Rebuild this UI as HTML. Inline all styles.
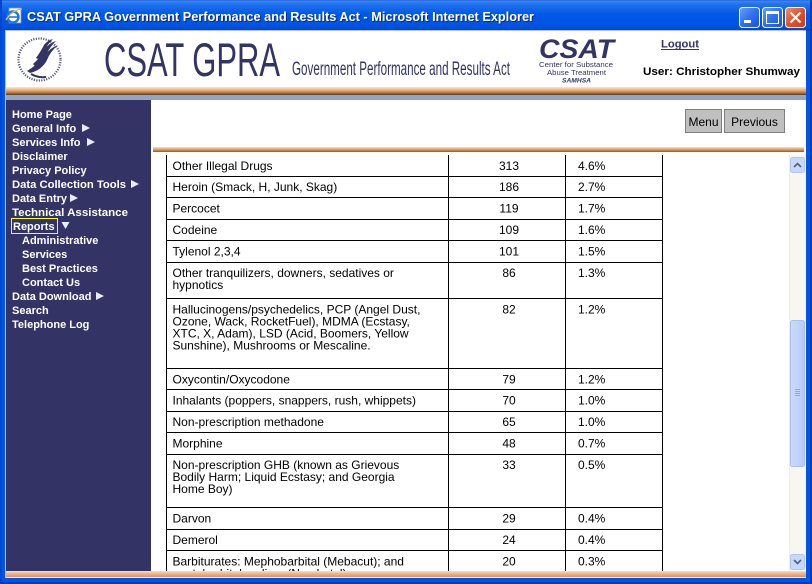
<!DOCTYPE html>
<html><head><meta charset="utf-8"><style>html,body{margin:0;padding:0;background:#fff;}svg{display:block;}</style></head>
<body>
<svg xmlns="http://www.w3.org/2000/svg" width="812" height="584" viewBox="0 0 812 584" font-family="'Liberation Sans', Arial, sans-serif">
<defs>
<linearGradient id="tb" x1="0" y1="0" x2="0" y2="1">
<stop offset="0" stop-color="#3d8ef8"/><stop offset="0.12" stop-color="#2474f0"/><stop offset="0.45" stop-color="#0058e6"/><stop offset="0.85" stop-color="#0054e3"/><stop offset="1" stop-color="#0043c2"/>
</linearGradient>
<linearGradient id="btn" x1="0" y1="0" x2="1" y2="1">
<stop offset="0" stop-color="#6ea0f8"/><stop offset="0.5" stop-color="#2f6ff0"/><stop offset="1" stop-color="#1a52d8"/>
</linearGradient>
<linearGradient id="cls" x1="0" y1="0" x2="1" y2="1">
<stop offset="0" stop-color="#f09070"/><stop offset="0.5" stop-color="#e0522a"/><stop offset="1" stop-color="#c83c18"/>
</linearGradient>
<linearGradient id="thumb" x1="0" y1="0" x2="1" y2="0">
<stop offset="0" stop-color="#cbdafc"/><stop offset="0.5" stop-color="#c2d3fc"/><stop offset="1" stop-color="#b5c8f6"/>
</linearGradient>
<clipPath id="tclip"><rect x="151" y="155" width="638" height="416"/></clipPath>
</defs>

<!-- window frame -->
<rect x="0" y="0" width="812" height="584" fill="#0055e5"/>
<rect x="0" y="0" width="812" height="31" fill="url(#tb)"/>
<rect x="0" y="0" width="812" height="1" fill="#2d6fe0"/>
<rect x="0" y="0" width="2" height="584" fill="#0047d0"/>
<rect x="810" y="0" width="2" height="584" fill="#003cb8"/>
<rect x="0" y="582" width="812" height="2" fill="#003cb8"/>

<!-- IE icon -->
<rect x="9" y="8" width="12" height="15" fill="#fff" stroke="#8090b0" stroke-width="0.8"/>
<circle cx="13" cy="17" r="5.5" fill="none" stroke="#1e78e8" stroke-width="2.4"/>
<rect x="8.5" y="16.2" width="9" height="1.6" fill="#1e78e8"/>
<path d="M6 20 Q12 10 22 9" fill="none" stroke="#f0c020" stroke-width="1.3"/>

<!-- title -->
<text x="28" y="22" font-size="13" font-weight="bold" fill="#0a2a80" textLength="507" lengthAdjust="spacingAndGlyphs">CSAT GPRA Government Performance and Results Act - Microsoft Internet Explorer</text>
<text x="27" y="21" font-size="13" font-weight="bold" fill="#fff" textLength="507" lengthAdjust="spacingAndGlyphs">CSAT GPRA Government Performance and Results Act - Microsoft Internet Explorer</text>

<!-- window buttons -->
<rect x="739.5" y="7.5" width="20" height="20" rx="3" fill="url(#btn)" stroke="#fff"/>
<rect x="744" y="20" width="7" height="3" fill="#fff"/>
<rect x="762.5" y="7.5" width="20" height="20" rx="3" fill="url(#btn)" stroke="#fff"/>
<rect x="766.5" y="11.5" width="12" height="12" fill="none" stroke="#fff" stroke-width="1"/>
<rect x="766.5" y="11.5" width="12" height="2.5" fill="#fff"/>
<rect x="785.5" y="7.5" width="20" height="20" rx="3" fill="url(#cls)" stroke="#fff"/>
<path d="M790.5 12.5 L800.5 22.5 M800.5 12.5 L790.5 22.5" stroke="#fff" stroke-width="2.2"/>

<!-- client area -->
<rect x="5" y="30" width="801" height="548" fill="#fff"/>
<rect x="5" y="30" width="1" height="548" fill="#b8c0d0"/>
<rect x="5" y="30" width="801" height="1" fill="#b8c0d0"/>

<!-- HHS logo -->
<circle cx="39.5" cy="59.5" r="21" fill="none" stroke="#5a5a80" stroke-width="2.2" stroke-dasharray="1.2 1.3"/>
<path d="M27 71 Q36 66 44 56 Q50 48 58 45 Q50 52 47 60 Q42 70 30 73 Z" fill="#333366"/>
<path d="M33 64 Q40 58 44 50 Q49 43 56 41 Q50 47 47 53 Q43 61 35 66 Z" fill="#333366"/>
<path d="M36 58 Q41 51 44 45 Q48 40 53 39 Q48 44 46 48 Q43 55 38 59 Z" fill="#333366"/>
<path d="M31 74 Q38 78 46 77" fill="none" stroke="#333366" stroke-width="2"/>

<!-- CSAT GPRA -->
<text x="104" y="76" font-size="47" fill="#333366" textLength="176" lengthAdjust="spacingAndGlyphs">CSAT GPRA</text>
<text x="292" y="75" font-size="19.5" fill="#333366" textLength="218" lengthAdjust="spacingAndGlyphs">Government Performance and Results Act</text>

<!-- CSAT logo -->
<text x="539" y="58" font-size="27" font-weight="bold" font-style="italic" fill="#333366" textLength="75" lengthAdjust="spacingAndGlyphs">CSAT</text>
<text x="539" y="67" font-size="7.5" fill="#333366" textLength="74" lengthAdjust="spacingAndGlyphs">Center for Substance</text>
<text x="547" y="75" font-size="7.5" fill="#333366" textLength="59" lengthAdjust="spacingAndGlyphs">Abuse Treatment</text>
<text x="562" y="82.5" font-size="6" font-weight="bold" font-style="italic" fill="#333366" textLength="29" lengthAdjust="spacingAndGlyphs">SAMHSA</text>

<!-- Logout / user -->
<text x="661" y="47.5" font-size="11" font-weight="bold" fill="#333366" textLength="38" lengthAdjust="spacingAndGlyphs">Logout</text>
<rect x="661" y="49" width="38" height="1" fill="#333366"/>
<text x="643" y="75" font-size="11" font-weight="bold" fill="#000" textLength="157" lengthAdjust="spacingAndGlyphs">User: Christopher Shumway</text>

<!-- header stripe -->
<rect x="6" y="87" width="800" height="1" fill="#f6e4aa"/>
<rect x="6" y="88" width="800" height="1" fill="#f4cf9c"/>
<rect x="6" y="89" width="800" height="1" fill="#efba8a"/>
<rect x="6" y="90" width="800" height="1" fill="#e8a574"/>
<rect x="6" y="91" width="800" height="1" fill="#d98e5c"/>
<rect x="6" y="92" width="800" height="1" fill="#c07a46"/>
<rect x="6" y="93" width="800" height="1" fill="#8c6c32"/>
<rect x="6" y="94" width="800" height="1" fill="#5c4c2a"/>
<rect x="6" y="95" width="800" height="5" fill="#8fa6c6"/>

<!-- nav -->
<rect x="6" y="100" width="145" height="471" fill="#333366"/>
<g font-size="11" font-weight="bold" fill="#fff">
<text x="12" y="118">Home Page</text>
<text x="12" y="132">General Info</text>
<text x="12" y="146">Services Info</text>
<text x="12" y="160">Disclaimer</text>
<text x="12" y="174">Privacy Policy</text>
<text x="12" y="188" textLength="114" lengthAdjust="spacingAndGlyphs">Data Collection Tools</text>
<text x="12" y="202">Data Entry</text>
<text x="12" y="216" textLength="116" lengthAdjust="spacingAndGlyphs">Technical Assistance</text>
<text x="13" y="230">Reports</text>
<text x="22" y="244">Administrative</text>
<text x="22" y="258">Services</text>
<text x="22" y="272">Best Practices</text>
<text x="22" y="286">Contact Us</text>
<text x="12" y="300">Data Download</text>
<text x="12" y="314">Search</text>
<text x="12" y="328">Telephone Log</text>
</g>
<rect x="11.5" y="218.5" width="46" height="15" fill="none" stroke="#ffff00" stroke-width="1"/>
<g fill="#e6eefa">
<polygon points="82,124 90,128 82,132"/>
<polygon points="87,138 95,142 87,146"/>
<polygon points="131,180 139,184 131,188"/>
<polygon points="70,194 78,198 70,202"/>
<polygon points="61.5,222 69.5,222 65.5,229"/>
<polygon points="96,292 104,296 96,300"/>
</g>

<!-- buttons -->
<rect x="685.5" y="109.5" width="36" height="23" fill="#c0c0c0" stroke="#7f7f7f"/>
<text x="703.5" y="126" font-size="12" text-anchor="middle" fill="#000">Menu</text>
<rect x="724.5" y="109.5" width="60" height="23" fill="#c0c0c0" stroke="#7f7f7f"/>
<text x="754.5" y="126" font-size="12" text-anchor="middle" fill="#000">Previous</text>

<!-- divider stripe -->
<rect x="153" y="147" width="651" height="1" fill="#f6d8ac"/>
<rect x="153" y="148" width="651" height="1" fill="#efb486"/>
<rect x="153" y="149" width="651" height="1" fill="#e49a64"/>
<rect x="153" y="150" width="651" height="1" fill="#c48444"/>
<rect x="153" y="151" width="651" height="1" fill="#8a7038"/>

<!-- table -->
<g clip-path="url(#tclip)">
<g stroke="#000" stroke-width="1">
<line x1="166.5" y1="150" x2="166.5" y2="580"/>
<line x1="448.5" y1="150" x2="448.5" y2="580"/>
<line x1="565.5" y1="150" x2="565.5" y2="580"/>
<line x1="662.5" y1="150" x2="662.5" y2="580"/>
<line x1="166" y1="176.5" x2="663" y2="176.5"/>
<line x1="166" y1="197.5" x2="663" y2="197.5"/>
<line x1="166" y1="219.5" x2="663" y2="219.5"/>
<line x1="166" y1="240.5" x2="663" y2="240.5"/>
<line x1="166" y1="262.5" x2="663" y2="262.5"/>
<line x1="166" y1="298.5" x2="663" y2="298.5"/>
<line x1="166" y1="368.5" x2="663" y2="368.5"/>
<line x1="166" y1="389.5" x2="663" y2="389.5"/>
<line x1="166" y1="411.5" x2="663" y2="411.5"/>
<line x1="166" y1="432.5" x2="663" y2="432.5"/>
<line x1="166" y1="454.5" x2="663" y2="454.5"/>
<line x1="166" y1="507.5" x2="663" y2="507.5"/>
<line x1="166" y1="529.5" x2="663" y2="529.5"/>
<line x1="166" y1="550.5" x2="663" y2="550.5"/>
</g>
<g font-size="12" fill="#000">
<text x="172.5" y="170">Other Illegal Drugs</text>
<text x="172.5" y="191">Heroin (Smack, H, Junk, Skag)</text>
<text x="172.5" y="212.5">Percocet</text>
<text x="172.5" y="234">Codeine</text>
<text x="172.5" y="255.5">Tylenol 2,3,4</text>
<text x="172.5" y="277">Other tranquilizers, downers, sedatives or</text>
<text x="172.5" y="289">hypnotics</text>
<text x="172.5" y="313.5">Hallucinogens/psychedelics, PCP (Angel Dust,</text>
<text x="172.5" y="325.5">Ozone, Wack, RocketFuel), MDMA (Ecstasy,</text>
<text x="172.5" y="337.5">XTC, X, Adam), LSD (Acid, Boomers, Yellow</text>
<text x="172.5" y="349.5">Sunshine), Mushrooms or Mescaline.</text>
<text x="172.5" y="383.5">Oxycontin/Oxycodone</text>
<text x="172.5" y="404.5">Inhalants (poppers, snappers, rush, whippets)</text>
<text x="172.5" y="426">Non-prescription methadone</text>
<text x="172.5" y="447.5">Morphine</text>
<text x="172.5" y="469">Non-prescription GHB (known as Grievous</text>
<text x="172.5" y="481">Bodily Harm; Liquid Ecstasy; and Georgia</text>
<text x="172.5" y="493">Home Boy)</text>
<text x="172.5" y="522.5">Darvon</text>
<text x="172.5" y="544">Demerol</text>
<text x="172.5" y="565.5">Barbiturates: Mephobarbital (Mebacut); and</text>
<text x="172.5" y="577.5">pentobarbital sodium (Nembutal)</text>
</g>
<g font-size="12" fill="#000" text-anchor="middle">
<text x="509" y="170">313</text>
<text x="509" y="191">186</text>
<text x="509" y="212.5">119</text>
<text x="509" y="234">109</text>
<text x="509" y="255.5">101</text>
<text x="509" y="277">86</text>
<text x="509" y="313.5">82</text>
<text x="509" y="383.5">79</text>
<text x="509" y="404.5">70</text>
<text x="509" y="426">65</text>
<text x="509" y="447.5">48</text>
<text x="509" y="469">33</text>
<text x="509" y="522.5">29</text>
<text x="509" y="544">24</text>
<text x="509" y="565.5">20</text>
</g>
<g font-size="12" fill="#000">
<text x="578" y="170">4.6%</text>
<text x="578" y="191">2.7%</text>
<text x="578" y="212.5">1.7%</text>
<text x="578" y="234">1.6%</text>
<text x="578" y="255.5">1.5%</text>
<text x="578" y="277">1.3%</text>
<text x="578" y="313.5">1.2%</text>
<text x="578" y="383.5">1.2%</text>
<text x="578" y="404.5">1.0%</text>
<text x="578" y="426">1.0%</text>
<text x="578" y="447.5">0.7%</text>
<text x="578" y="469">0.5%</text>
<text x="578" y="522.5">0.4%</text>
<text x="578" y="544">0.4%</text>
<text x="578" y="565.5">0.3%</text>
</g>
</g>

<!-- scrollbar -->
<rect x="789" y="155" width="17" height="416" fill="#f7f6f1"/>
<rect x="789" y="155" width="1" height="416" fill="#eeede5"/>
<rect x="790.5" y="157.5" width="14" height="15" rx="2" fill="#c8d8fa" stroke="#b2c6f2"/>
<path d="M794 167 L797.5 163.5 L801 167" fill="none" stroke="#4d6185" stroke-width="1.6"/>
<rect x="790.5" y="554.5" width="14" height="15" rx="2" fill="#c8d8fa" stroke="#b2c6f2"/>
<path d="M794 560 L797.5 563.5 L801 560" fill="none" stroke="#4d6185" stroke-width="1.6"/>
<rect x="790.5" y="320.5" width="14" height="146" rx="2" fill="url(#thumb)" stroke="#a9bff0"/>
<g fill="#8ea8e8">
<rect x="795" y="389" width="5" height="1"/>
<rect x="795" y="391" width="5" height="1"/>
<rect x="795" y="393" width="5" height="1"/>
<rect x="795" y="395" width="5" height="1"/>
</g>

<!-- bottom stripe -->
<rect x="6" y="571" width="800" height="1" fill="#f6dcb4"/>
<rect x="6" y="572" width="800" height="1" fill="#f2c8a0"/>
<rect x="6" y="573" width="800" height="1" fill="#eeb890"/>
<rect x="6" y="574" width="800" height="1" fill="#eaac80"/>
<rect x="6" y="575" width="800" height="1" fill="#e6a274"/>
<rect x="6" y="576" width="800" height="1" fill="#e4986a"/>
<rect x="6" y="577" width="800" height="1" fill="#f2e8d8"/>
</svg>
</body></html>
